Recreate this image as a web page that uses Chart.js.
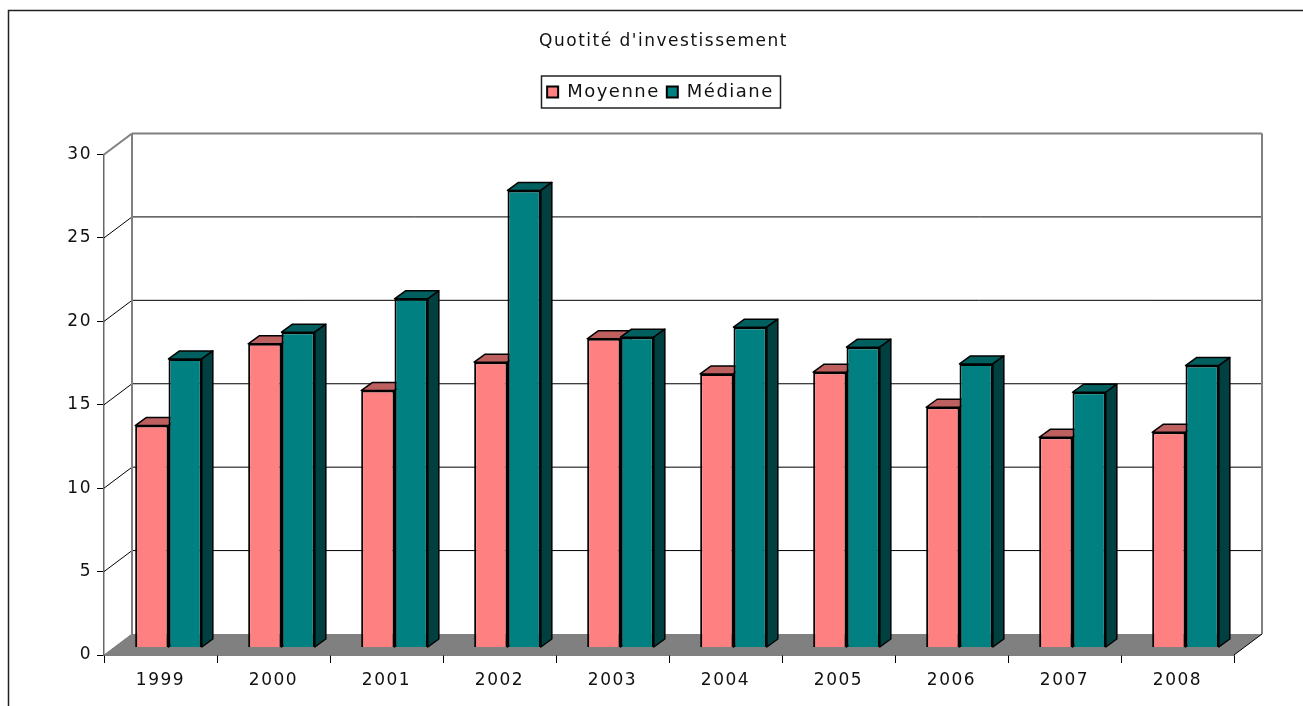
<!DOCTYPE html>
<html lang="fr">
<head>
<meta charset="utf-8">
<title>Quotité d'investissement</title>
<script src="https://cdn.jsdelivr.net/npm/chart.js@4"></script>
<style>
  html, body { margin: 0; padding: 0; background: #fff; overflow: hidden; }
  canvas { display: block; }
</style>
</head>
<body>
<canvas id="chart" width="1303" height="706"></canvas>
<script>
const years   = ['1999', '2000', '2001', '2002', '2003', '2004', '2005', '2006', '2007', '2008'];
const moyenne = [13.3, 18.2, 15.4, 17.1, 18.5, 16.4, 16.5, 14.4, 12.6, 12.9];
const mediane = [17.3, 18.9, 20.9, 27.4, 18.6, 19.2, 18.0, 17.0, 15.3, 16.9];
const yTicks  = [0, 5, 10, 15, 20, 25, 30];

const FONT = '"DejaVu Sans", Verdana, sans-serif';
const SPACING = '1.5px';

// pseudo 3D, excel style
const wallDx = 28, wallDy = -21;    // back wall offset from the axes
const barDx = 8, barDy = -7.5;      // bars stand a bit inside the floor
const depthDx = 11, depthDy = -8;   // depth of one bar

function poly(ctx, pts, fill, stroke, lw) {
  ctx.beginPath();
  pts.forEach((p, i) => i ? ctx.lineTo(p[0], p[1]) : ctx.moveTo(p[0], p[1]));
  ctx.closePath();
  if (fill) { ctx.fillStyle = fill; ctx.fill(); }
  if (stroke) { ctx.strokeStyle = stroke; ctx.lineWidth = lw; ctx.lineJoin = 'round'; ctx.stroke(); }
}

function line(ctx, x1, y1, x2, y2, color, lw) {
  ctx.beginPath();
  ctx.moveTo(x1, y1);
  ctx.lineTo(x2, y2);
  ctx.strokeStyle = color;
  ctx.lineWidth = lw;
  ctx.stroke();
}

const frame3d = {
  id: 'frame3d',
  beforeLayout(chart) {
    chart.ctx.letterSpacing = SPACING;
    // room between the legend and the plot
    const lg = chart.legend;
    if (!lg._roomy) {
      const fit = lg.fit;
      lg.fit = function () { fit.call(this); this.height += 43.5; };
      lg._roomy = true;
    }
  },
  afterLayout(chart) {
    // title and legend are centred on the page, not on the axes
    chart.titleBlock.left += 46.5;
    chart.titleBlock.right += 46.5;
    chart.legend.left += 43.5;
    chart.legend.right += 43.5;
  },
  beforeDraw(chart) {
    chart.ctx.letterSpacing = SPACING;
  },
  beforeDatasetsDraw(chart) {
    const { ctx, chartArea: a, scales: { y } } = chart;
    ctx.save();

    // outer frame, open at the bottom and on the right
    ctx.beginPath();
    ctx.moveTo(8.5, 706);
    ctx.lineTo(8.5, 10.5);
    ctx.lineTo(1303, 10.5);
    ctx.strokeStyle = '#222';
    ctx.lineWidth = 1.5;
    ctx.stroke();

    // floor
    const y0 = y.getPixelForValue(0);
    poly(ctx, [[a.left, y0], [a.left + wallDx, y0 + wallDy], [a.right + wallDx, y0 + wallDy], [a.right, y0]], '#808080');

    // gridlines on the wall and the left side
    yTicks.forEach(v => {
      const py = y.getPixelForValue(v);
      if (v === 0) return;
      const col = v === 30 ? '#808080' : '#000';
      const lw = v === 30 ? 2 : 1;
      line(ctx, a.left, py, a.left + wallDx, py + wallDy, col, lw);
      line(ctx, a.left + wallDx, py + wallDy, a.right + wallDx, py + wallDy, col, lw);
    });

    // wall edges
    const yTop = y.getPixelForValue(30) + wallDy;
    line(ctx, a.left + wallDx, yTop, a.left + wallDx, y0 + wallDy, '#808080', 2);
    line(ctx, a.right + wallDx, yTop, a.right + wallDx, y0 + wallDy, '#808080', 2);
    line(ctx, a.left, y0, a.left + wallDx, y0 + wallDy, '#808080', 1);
    line(ctx, a.right, y0, a.right + wallDx, y0 + wallDy, '#000', 1);
    ctx.restore();

    // the bars are moved onto the floor until afterDatasetsDraw
    ctx.save();
    ctx.translate(barDx, barDy);

    // sides and tops first, the library then paints the fronts over them
    const looks = [
      { top: '#bf6060', side: '#bf6060' },
      { top: '#006060', side: '#004040' }
    ];
    looks.forEach((look, d) => {
      chart.getDatasetMeta(d).data.forEach(bar => {
        const half = bar.width / 2;
        const l = bar.x - half, r = bar.x + half, t = bar.y, b = bar.base;
        poly(ctx, [[l, t], [l + depthDx, t + depthDy], [r + depthDx, t + depthDy], [r, t]], look.top, '#000', 1.5);
        poly(ctx, [[r, t], [r + depthDx, t + depthDy], [r + depthDx, b + depthDy], [r, b]], look.side, '#000', 1.5);
      });
    });
  },
  afterDatasetsDraw(chart) {
    chart.ctx.restore();
  },
  afterDraw(chart) {
    // box round the legend
    const lg = chart.legend, ctx = chart.ctx;
    ctx.save();
    ctx.strokeStyle = '#222';
    ctx.lineWidth = 1.5;
    ctx.strokeRect(541.5, lg.top, 239, 32);
    ctx.restore();
  }
};

new Chart(document.getElementById('chart'), {
  type: 'bar',
  data: {
    labels: years,
    datasets: [
      { label: 'Moyenne', data: moyenne, backgroundColor: '#ff8080', borderColor: '#000', borderWidth: 2 },
      { label: 'Médiane', data: mediane, backgroundColor: '#008080', borderColor: '#000', borderWidth: 2 }
    ]
  },
  plugins: [frame3d],
  options: {
    responsive: false,
    animation: false,
    devicePixelRatio: 1,
    categoryPercentage: 0.59,
    barPercentage: 1,
    layout: { padding: { left: 0, right: 69, top: 0, bottom: 0 } },
    plugins: {
      tooltip: { enabled: false },
      title: {
        display: true,
        text: "Quotité d'investissement",
        color: '#111',
        font: { family: FONT, size: 17, weight: 'normal' },
        padding: { top: 31, bottom: 24.6 }
      },
      legend: {
        display: true,
        position: 'top',
        labels: {
          color: '#111',
          font: { family: FONT, size: 18 },
          boxWidth: 11,
          boxHeight: 11,
          padding: 7
        }
      }
    },
    scales: {
      x: {
        afterFit: s => { s.height = 51; },
        grid: { drawOnChartArea: false, color: '#000', tickLength: 8 },
        border: { color: '#000', width: 1.5 },
        ticks: { color: '#111', font: { family: FONT, size: 17 }, padding: 7, maxRotation: 0 }
      },
      y: {
        min: 0,
        max: 30,
        afterFit: s => { s.width = 104; },
        afterBuildTicks: s => { s.ticks = yTicks.map(v => ({ value: v })); },
        grid: { drawOnChartArea: false, color: '#000', tickLength: 7 },
        border: { color: '#666', width: 1.5 },
        ticks: { color: '#111', font: { family: FONT, size: 17 }, padding: 5 }
      }
    }
  }
});
</script>
</body>
</html>
